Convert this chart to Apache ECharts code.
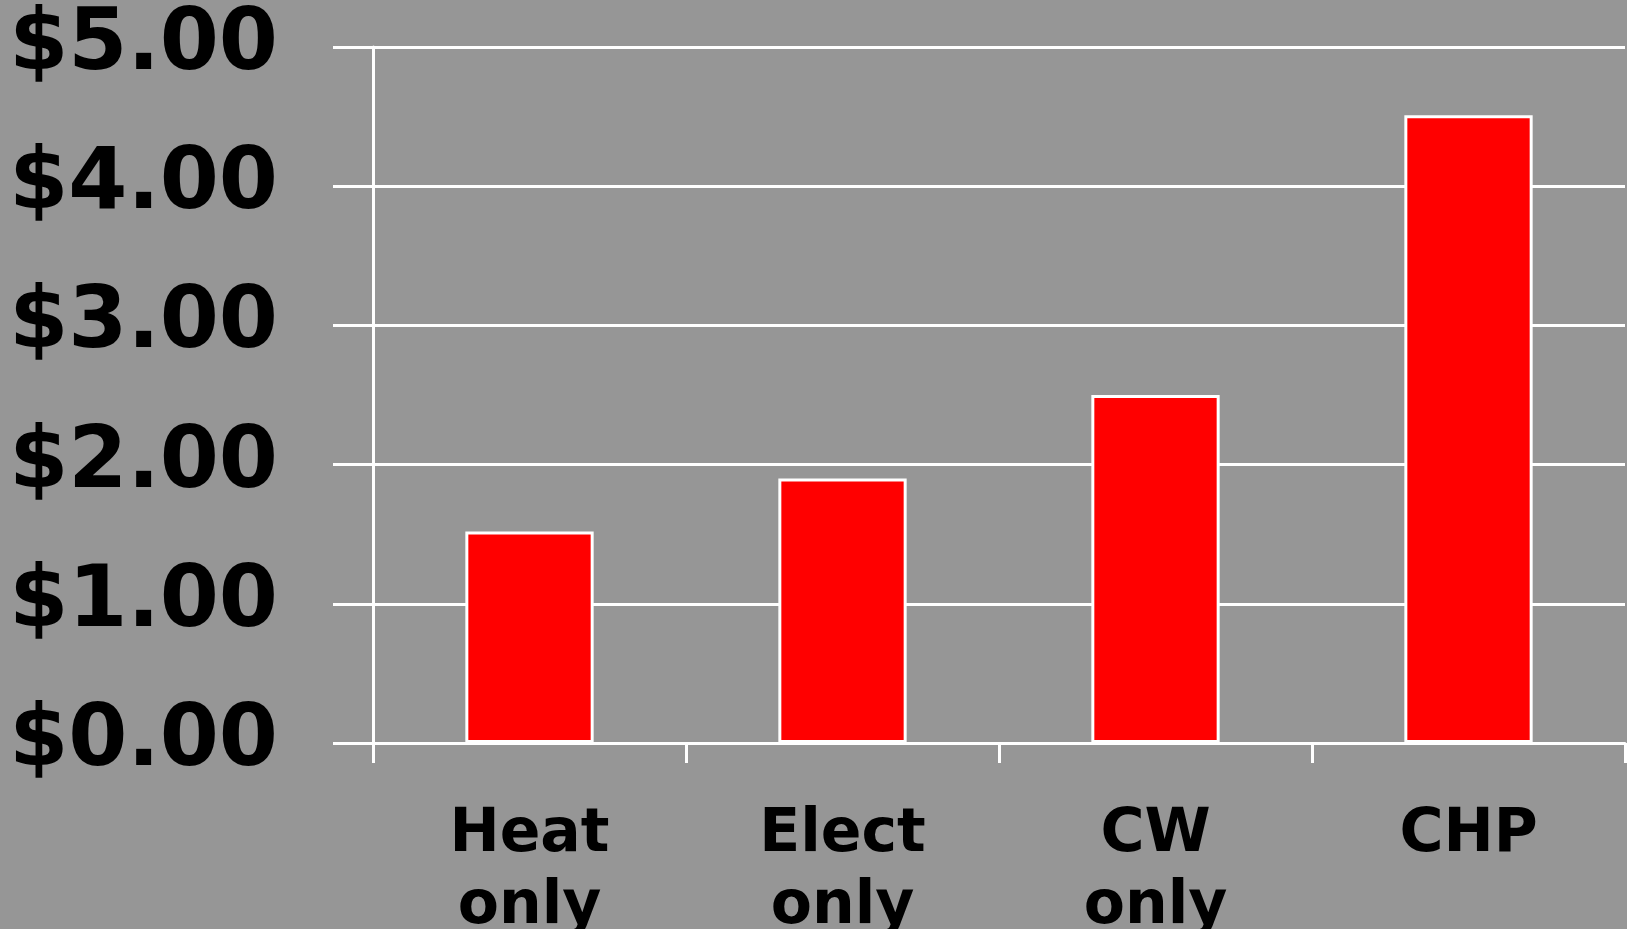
<!DOCTYPE html>
<html>
<head>
<meta charset="utf-8">
<script src="https://cdn.jsdelivr.net/npm/echarts@6/dist/echarts.min.js"></script>
<style>
  html, body { margin: 0; padding: 0; background: #969696; }
  #chart { width: 1627px; height: 929px; }
</style>
</head>
<body>
<div id="chart"></div>
<script>
const categories = ['Heat\nonly', 'Elect\nonly', 'CW\nonly', 'CHP']
const costs = [1.52, 1.9, 2.5, 4.51]
const yTicks = [0, 1, 2, 3, 4, 5]

const white = '#ffffff'
const font = 'DejaVu Sans'

const chart = echarts.init(document.getElementById('chart'))

chart.setOption({
  backgroundColor: '#969696',
  animation: false,
  grid: {
    left: 373,
    right: 2,
    top: 47,
    bottom: 186,
    containLabel: false,
    outerBoundsMode: 'none'
  },
  xAxis: {
    type: 'category',
    data: categories,
    boundaryGap: true,
    axisLine: { lineStyle: { color: white, width: 3 } },
    axisTick: { show: true, alignWithLabel: false, interval: 0, length: 20, lineStyle: { color: white, width: 3 } },
    axisLabel: {
      color: '#000',
      fontFamily: font,
      fontWeight: 'bold',
      fontSize: 60,
      lineHeight: 72,
      margin: 56,
      interval: 0
    }
  },
  yAxis: {
    type: 'value',
    min: yTicks[0],
    max: yTicks[yTicks.length - 1],
    interval: 1,
    axisLine: { show: true, lineStyle: { color: white, width: 3 } },
    axisTick: { show: true, length: 40, lineStyle: { color: white, width: 3 } },
    splitLine: { lineStyle: { color: white, width: 3 } },
    axisLabel: {
      color: '#000',
      fontFamily: font,
      fontWeight: 'bold',
      fontSize: 85,
      margin: 95,
      formatter: v => '$' + v.toFixed(2)
    }
  },
  series: [{
    type: 'bar',
    data: costs,
    barWidth: '41%',
    itemStyle: {
      color: '#ff0000',
      borderColor: white,
      borderWidth: 3
    }
  }]
})
</script>
</body>
</html>
